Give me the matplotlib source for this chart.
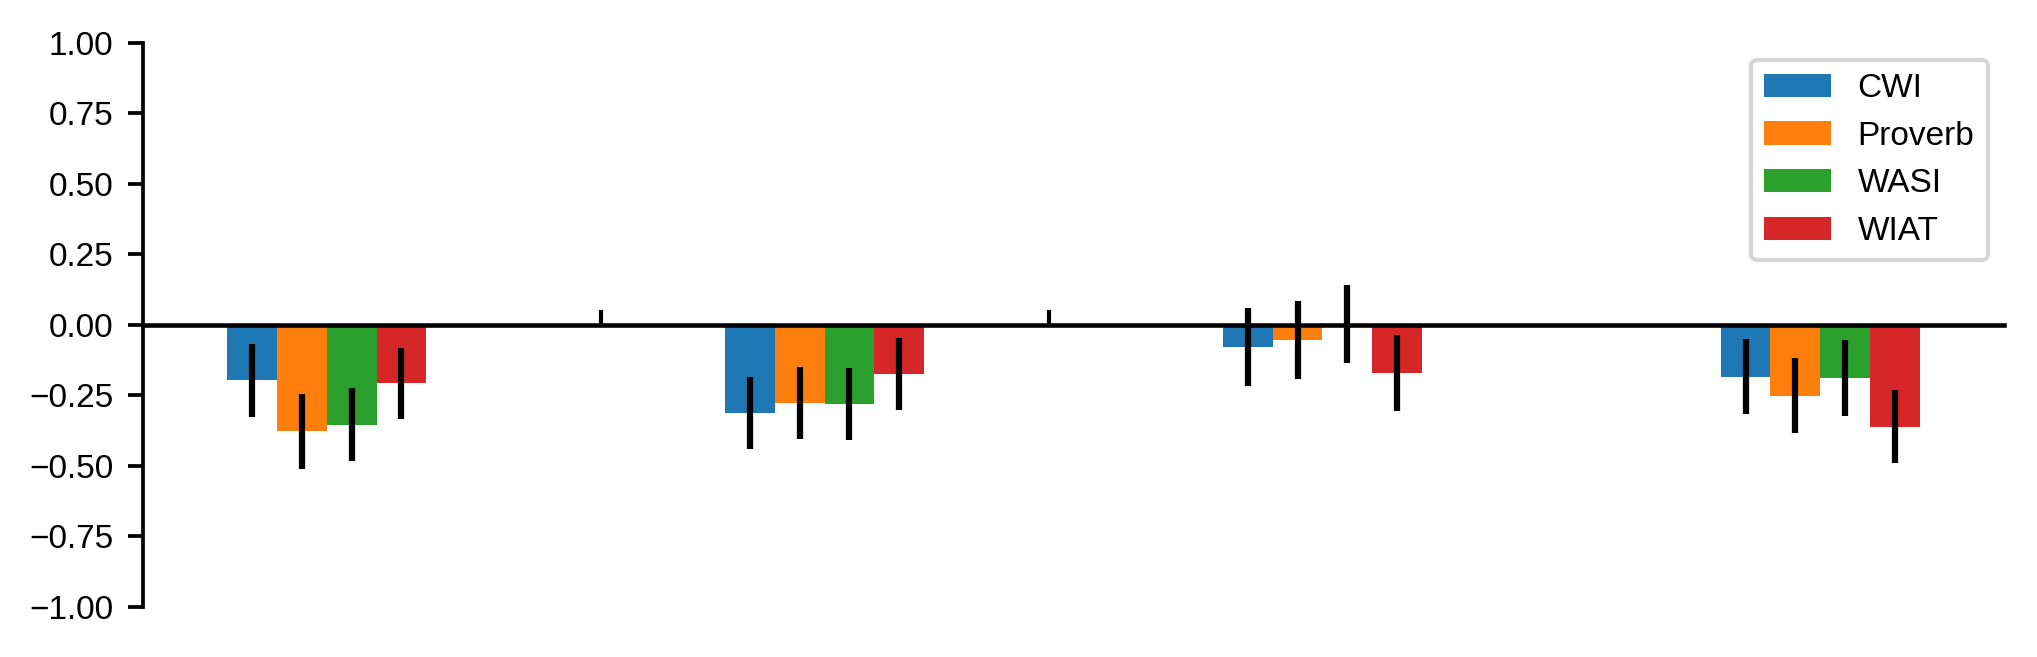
import numpy as np
import matplotlib.pyplot as plt

plt.rcParams['font.family'] = ['Liberation Sans', 'DejaVu Sans']

tests = ["CWI", "Proverb", "WASI", "WIAT"]
colors = ["#1f77b4", "#ff7f0e", "#2ca02c", "#d62728"]

# mean effect per group (4 groups) for each test
CWI     = [-0.197, -0.313, -0.079, -0.184]
Proverb = [-0.378, -0.277, -0.054, -0.251]
WASI    = [-0.354, -0.281,  0.002, -0.188]
WIAT    = [-0.208, -0.175, -0.171, -0.361]

CWI_err     = [0.130, 0.128, 0.140, 0.133]
Proverb_err = [0.132, 0.128, 0.140, 0.134]
WASI_err    = [0.130, 0.128, 0.138, 0.134]
WIAT_err    = [0.126, 0.127, 0.136, 0.131]

means = [CWI, Proverb, WASI, WIAT]
errs = [CWI_err, Proverb_err, WASI_err, WIAT_err]

fig = plt.figure(figsize=(2037/300, 657/300), dpi=300)
ax = fig.add_axes([0.070, 0.0767, 0.914, 0.858])

x = np.arange(4)
w = 0.1
for i in range(4):
    ax.bar(x + (i - 1.5)*w, means[i], w, yerr=errs[i], color=colors[i],
           label=tests[i], error_kw=dict(elinewidth=1.5, ecolor='k', capsize=0))

ax.set_ylim(-1, 1)
ax.set_yticks([-1, -0.75, -0.5, -0.25, 0, 0.25, 0.5, 0.75, 1.0])
ax.spines['top'].set_visible(False)
ax.spines['right'].set_visible(False)
ax.spines['bottom'].set_position('zero')
ax.spines['bottom'].set_linewidth(1.1)
ax.spines['left'].set_linewidth(0.9)
ax.set_xticks([0.55, 1.45])
ax.set_xticklabels([])
ax.tick_params(axis='x', direction='in', width=1.0)
ax.tick_params(axis='y', width=0.9)
ax.tick_params(labelsize=8)
ax.legend(loc='upper right', fontsize=8)

plt.savefig("out.png", dpi=300)
